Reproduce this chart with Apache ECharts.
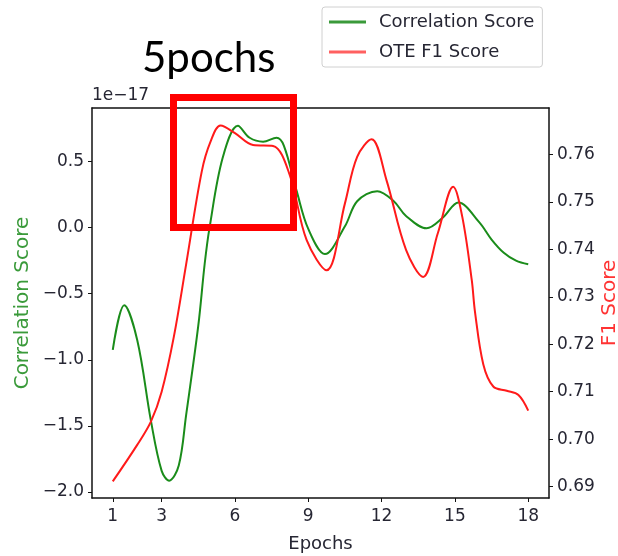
<!DOCTYPE html>
<html>
<head>
<meta charset="utf-8">
<script src="https://cdn.jsdelivr.net/npm/echarts@6/dist/echarts.min.js"></script>
<style>
  html, body { margin: 0; padding: 0; background: #fff; }
  #chart { width: 618px; height: 556px; }
</style>
</head>
<body>
<div id="chart"></div>
<script>
// values (epoch, value)
const corrEpochs = [1.0, 1.47, 2.0, 2.56, 3.0, 3.31, 3.7, 4.0, 4.5, 4.76, 4.96, 5.5, 6.12, 6.6, 7.15, 7.7, 8.0, 8.52, 9.0, 9.68, 10.5, 11.0, 11.82, 12.5, 13.0, 13.84, 14.5, 15.14, 16.0, 16.5, 17.0, 17.5, 18.0];
const corrValues = [-0.925, -0.587, -0.85, -1.46, -1.84, -1.914, -1.80, -1.42, -0.74, -0.275, 0.0, 0.53, 0.77, 0.68, 0.65, 0.68, 0.62, 0.28, -0.01, -0.20, 0.01, 0.20, 0.276, 0.20, 0.088, -0.005, 0.075, 0.19, 0.04, -0.09, -0.19, -0.25, -0.277];

const f1Epochs = [1.0, 2.0, 2.56, 3.0, 3.5, 4.0, 4.64, 5.0, 5.41, 6.0, 6.74, 7.56, 8.24, 8.93, 9.75, 10.5, 11.0, 11.59, 12.2, 13.0, 13.7, 14.3, 14.93, 15.3, 15.69, 15.82, 16.16, 16.57, 17.12, 17.6, 18.0];
const f1Values = [0.6911, 0.6988, 0.7037, 0.7100, 0.7216, 0.7368, 0.7564, 0.7627, 0.7661, 0.7645, 0.7620, 0.7618, 0.7557, 0.7420, 0.7356, 0.7497, 0.7595, 0.7632, 0.7546, 0.7399, 0.7342, 0.7434, 0.7532, 0.7469, 0.7335, 0.7269, 0.7158, 0.7111, 0.7102, 0.7093, 0.7060];

const xTicks = [1, 3, 6, 9, 12, 15, 18];
const corrTicks = [-2.0, -1.5, -1.0, -0.5, 0.0, 0.5];
const f1Ticks = [0.69, 0.70, 0.71, 0.72, 0.73, 0.74, 0.75, 0.76];

const GREEN = '#1a8c1a';
const RED = '#ff1a1a';
const FONT = 'DejaVu Sans';
const INK = '#262633';

const zip = (xs, ys) => xs.map((x, i) => [x, ys[i]]);

const chart = echarts.init(document.getElementById('chart'), null, { renderer: 'canvas' });

const axisLine = { show: true, onZero: false, lineStyle: { color: '#111', width: 1.5 } };

chart.setOption({
  animation: false,
  backgroundColor: '#fff',
  textStyle: { fontFamily: FONT },
  grid: { left: 92, top: 108, right: 69, bottom: 58, containLabel: false, outerBoundsMode: 'none' },
  legend: {
    orient: 'vertical',
    left: 322,
    top: 7,
    padding: [5, 8, 5, 7],
    itemGap: 10,
    itemWidth: 37,
    itemHeight: 3,
    icon: 'rect',
    borderColor: '#d0d0d0',
    borderWidth: 1,
    borderRadius: 3,
    textStyle: { fontFamily: FONT, fontSize: 18, color: INK, lineHeight: 20, padding: [0, 0, 0, 8] },
    data: [
      { name: 'Correlation Score', itemStyle: { color: '#3a9a3a' } },
      { name: 'OTE F1 Score', itemStyle: { color: '#ff6060' } }
    ]
  },
  xAxis: [{
    type: 'value',
    min: 0.15,
    max: 18.85,
    name: 'Epochs',
    nameLocation: 'middle',
    nameGap: 37,
    nameMoveOverlap: false,
    nameTextStyle: { fontFamily: FONT, fontSize: 18, color: INK },
    axisLine: axisLine,
    axisTick: { show: true, length: 4, customValues: xTicks, lineStyle: { color: '#111' } },
    axisLabel: { customValues: xTicks, margin: 10, fontSize: 17, color: INK, fontFamily: FONT },
    splitLine: { show: false }
  }, {
    type: 'value',
    position: 'top',
    min: 0.15,
    max: 18.85,
    axisLine: axisLine,
    axisTick: { show: false },
    axisLabel: { show: false },
    splitLine: { show: false }
  }],
  yAxis: [{
    type: 'value',
    min: -2.045,
    max: 0.905,
    name: 'Correlation Score',
    nameLocation: 'middle',
    nameRotate: 90,
    nameGap: 59,
    nameMoveOverlap: false,
    nameTextStyle: { fontFamily: FONT, fontSize: 20, color: '#3a9a3a' },
    axisLine: axisLine,
    axisTick: { show: true, length: 4, customValues: corrTicks, lineStyle: { color: '#111' } },
    axisLabel: {
      customValues: corrTicks, margin: 8, fontSize: 17, color: INK, fontFamily: FONT,
      formatter: v => v.toFixed(1).replace('-', '\u2212')
    },
    splitLine: { show: false }
  }, {
    type: 'value',
    position: 'right',
    min: 0.6876,
    max: 0.7698,
    name: 'F1 Score',
    nameLocation: 'middle',
    nameRotate: 90,
    nameGap: 51,
    nameMoveOverlap: false,
    nameTextStyle: { fontFamily: FONT, fontSize: 20, color: '#ff3333' },
    axisLine: axisLine,
    axisTick: { show: true, length: 4, customValues: f1Ticks, lineStyle: { color: '#111' } },
    axisLabel: {
      customValues: f1Ticks, margin: 8, fontSize: 17, color: INK, fontFamily: FONT,
      formatter: v => v.toFixed(2)
    },
    splitLine: { show: false }
  }],
  series: [{
    name: 'Correlation Score',
    type: 'line',
    xAxisIndex: 0,
    yAxisIndex: 0,
    smooth: 0.35,
    showSymbol: false,
    lineStyle: { color: GREEN, width: 2 },
    itemStyle: { color: GREEN },
    data: zip(corrEpochs, corrValues)
  }, {
    name: 'OTE F1 Score',
    type: 'line',
    xAxisIndex: 0,
    yAxisIndex: 1,
    smooth: 0.35,
    showSymbol: false,
    lineStyle: { color: RED, width: 2 },
    itemStyle: { color: RED },
    data: zip(f1Epochs, f1Values)
  }],
  graphic: [
    {
      type: 'text',
      left: 92,
      top: 87,
      style: { text: '1e\u221217', fontFamily: FONT, fontSize: 17, fill: INK }
    },
    {
      type: 'text',
      left: 142,
      top: 37,
      style: { text: '5pochs', fontFamily: 'Lato', fontSize: 42, fill: '#000' }
    },
    {
      type: 'rect',
      shape: { x: 173.5, y: 97.5, width: 120, height: 130 },
      style: { fill: 'none', stroke: '#ff0000', lineWidth: 7 },
      z: 100
    }
  ]
});
</script>
</body>
</html>
